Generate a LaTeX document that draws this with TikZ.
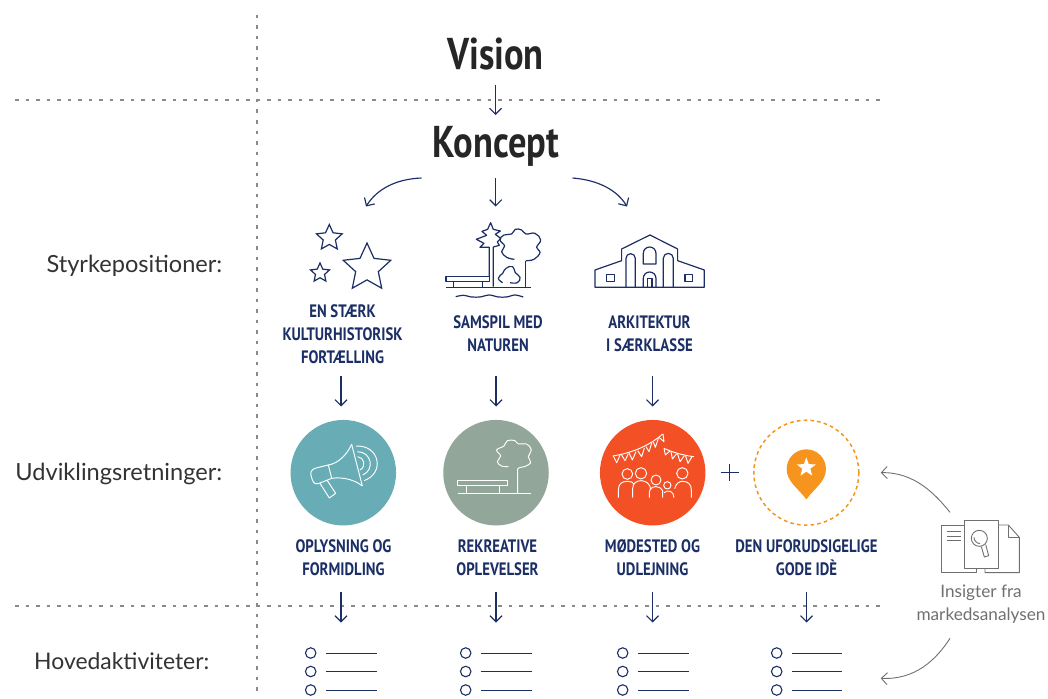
\documentclass[tikz,border=0pt]{standalone}
\usepackage{fontspec}
\usetikzlibrary{arrows.meta,shapes.geometric}
\setmainfont{Lato}
\newfontfamily\headfont[FakeStretch=0.82]{PT Sans Bold}
\newfontfamily\rowfont{Lato}
\definecolor{navy}{HTML}{1B2F66}
\definecolor{guide}{HTML}{8A8A8A}
\definecolor{grayink}{HTML}{707070}
\definecolor{teal}{HTML}{68ADB5}
\definecolor{sage}{HTML}{93A69A}
\definecolor{tomato}{HTML}{F35125}
\definecolor{amber}{HTML}{F7941E}
\tikzset{
 guideline/.style={draw=guide,line width=1.2pt,dash pattern=on 3.5pt off 7pt},
 flow/.style={draw=navy,line width=1.15pt,-{Straight Barb[length=6pt,width=12pt]}},
 side/.style={draw=grayink,line width=.9pt,-{Straight Barb[length=6pt,width=12pt]}},
 title/.style={font=\headfont\fontsize{44.5}{48}\selectfont,text=black!85,inner sep=0pt},
 tag/.style={font=\headfont\fontsize{18}{23}\selectfont,text=navy,align=center,inner sep=0pt},
 rowlabel/.style={font=\rowfont\fontsize{23.6}{27}\selectfont,text=black!80,anchor=east,inner sep=0pt},
 note/.style={font=\rowfont\fontsize{17.2}{23}\selectfont,text=grayink,align=center,inner sep=0pt},
 ink/.style={draw=navy,line width=1.2pt,line join=round},
 wink/.style={draw=white,line width=.95pt,line join=round},
 gink/.style={draw=grayink,line width=.9pt,line join=round},
 disc/.style={circle,minimum size=105.5pt,inner sep=0pt},
 startop/.style={star,star points=5,star point ratio=2.1,inner sep=0pt,draw=navy,line width=1.2pt},
 dotitem/.style={circle,draw=navy,line width=1.1pt,minimum size=10.5pt,inner sep=0pt},
}
\newcommand{\listblock}[3]{%
 \foreach \yy/\nn in {653/a,671.5/b,690/c}{
  \node[dotitem] (#3\nn) at (#1,\yy) {};
  \coordinate (#3\nn e) at (#2,\yy);
  \draw[navy,line width=1pt] (#3\nn.east)++(9pt,0) -- (#3\nn e);
 }}
\begin{document}
\begin{tikzpicture}[x=1pt,y=-1pt]
\useasboundingbox (0,0) rectangle (1048,698);
\fill[white] (0,0) rectangle (1048,698);
% guides
\coordinate (vt) at (257,15); \coordinate (vb) at (257,692);
\coordinate (h1a) at (15,100); \coordinate (h1b) at (880,100);
\coordinate (h2a) at (15,606); \coordinate (h2b) at (880,606);
\draw[guideline] (vt)--(vb);
\draw[guideline] (h1a)--(h1b);
\draw[guideline] (h2a)--(h2b);
% titles
\node[title] (vision) at (495.5,53.5) {Vision};
\node[title] (koncept) at (496,146.5) {Koncept};
\coordinate (v1) at (495.5,85); \coordinate (v2) at (495.5,115);
\draw[flow] (v1)--(v2);
\coordinate (kl) at (421.5,178); \coordinate (kle) at (366,206.5);
\coordinate (kc) at (495.7,178); \coordinate (kce) at (495.7,206.5);
\coordinate (kr) at (572.5,178); \coordinate (kre) at (627,206.5);
\draw[flow] (kl) .. controls (396,179) and (377,189) .. (kle);
\draw[flow] (kc)--(kce);
\draw[flow] (kr) .. controls (598,180) and (617,190) .. (kre);
% row labels
\node[rowlabel] (r1) at (222.5,266) {Styrkepositioner:};
\node[rowlabel] (r2) at (222.5,474) {Udviklingsretninger:};
\node[rowlabel,font=\rowfont\fontsize{22.9}{27}\selectfont] (r3) at (209.5,661) {Hovedaktiviteter:};
% stars
\node[startop,minimum size=50pt] (s1) at (367,268) {};
\node[startop,minimum size=27pt] (s2) at (329.3,238) {};
\node[startop,minimum size=20pt] (s3) at (320,273) {};
% icons zone 1 in zoom coordinates
\begin{scope}[shift={(280,170)},x=.3333pt,y=-.3333pt]
 % nature
 \draw[ink] (498,352)--(752,352);
 \draw[ink] (498,319) rectangle (628,334);
 \draw[ink] (520,334)--(520,352) (607,334)--(607,352);
 \draw[ink] plot[smooth] coordinates {(527,380)(550,376)(575,381)(600,381)(628,375)(655,381)(680,381)(705,375)(730,381)};
 \draw[ink] (628,319)--(628,232)--(600,232)--(612,220)--(589,208)--(620,196)--(606,184)--(623,178)--(632,158)--(640,178)--(661,183)--(646,193)--(662,205)--(652,216)--(658,226)--(640,231)--(640,350);
 \draw[ink] plot[smooth,tension=.7] coordinates {(703,268)(680,262)(665,245)(674,228)(660,210)(672,195)(695,192)(706,178)(725,180)(738,192)(765,190)(782,210)(770,232)(780,248)(762,268)(738,272)};
 \draw[ink] (737,272)--(737,350);
 \draw[ink] plot[smooth,tension=.8] coordinates {(668,338)(655,325)(668,310)(678,295)(698,290)(706,308)(720,322)(712,338)(690,338)};
 % building
 \draw[ink] (945,352)--(945,300)--(1025,272)--(1025,237)--(1110,195)--(1193,237)--(1193,272)--(1273,300)--(1273,352)--cycle;
 \draw[ink] (980,313) rectangle (1003,335) (1215,313) rectangle (1238,335);
 \draw[ink] (1038,352)--(1038,265) arc[start angle=180,end angle=0,x radius=14,y radius=-14]--(1066,352);
 \draw[ink] (1150,352)--(1150,265) arc[start angle=180,end angle=0,x radius=15,y radius=-15]--(1180,352);
 \draw[ink] (1090,282)--(1090,250) arc[start angle=180,end angle=0,x radius=19,y radius=-19]--(1128,282)--cycle;
 \draw[ink] (1090,352)--(1090,325) arc[start angle=180,end angle=0,x radius=19,y radius=-19]--(1128,352);
 \draw[ink] (1102,352)--(1102,325)--(1116,325)--(1116,352);
\end{scope}
% tags
\node[tag] (t1) at (342.5,334.5) {EN STÆRK\\KULTURHISTORISK\\FORTÆLLING};
\node[tag] (t2) at (498,333.5) {SAMSPIL MED\\NATUREN};
\node[tag] (t3) at (649.5,333.5) {ARKITEKTUR\\I SÆRKLASSE};
\node[tag] (t4) at (343.5,557.5) {OPLYSNING OG\\FORMIDLING};
\node[tag] (t5) at (497.5,557.5) {REKREATIVE\\OPLEVELSER};
\node[tag] (t6) at (652.5,557.5) {MØDESTED OG\\UDLEJNING};
\node[tag] (t7) at (806.5,557.5) {DEN UFORUDSIGELIGE\\GODE IDÈ};
% vertical arrows
\foreach \n/\x in {a/341,b/496,c/652.5}{
 \coordinate (m\n) at (\x,376); \coordinate (m\n e) at (\x,406.5);
 \draw[flow] (m\n)--(m\n e);
}
\foreach \n/\x in {a/341,b/496,c/652.5,d/806.5}{
 \coordinate (l\n) at (\x,592); \coordinate (l\n e) at (\x,622.5);
 \draw[flow] (l\n)--(l\n e);
}
% discs
\node[disc,fill=teal] (d1) at (343.3,472.7) {};
\node[disc,fill=sage] (d2) at (496,472.7) {};
\node[disc,fill=tomato] (d3) at (652.7,472.7) {};
\node[disc,draw=amber,line width=1.5pt,dash pattern=on 3.6pt off 3.2pt,minimum size=105pt] (d4) at (806.3,472.7) {};
\begin{scope}[shift={(280,410)},x=.3333pt,y=-.3333pt]
 % megaphone
 \draw[wink] (215,103)--(247,228);
 \draw[wink] (145,165) .. controls (175,160) and (200,135) .. (215,103);
 \draw[wink] (155,205) .. controls (190,200) and (225,210) .. (247,228);
 \draw[wink] (145,165)--(155,205);
 \draw[wink] (145,165)--(108,174) .. controls (92,178) and (90,190) .. (94,200) .. controls (98,215) and (102,224) .. (115,221)--(155,205);
 \draw[wink] (120,220)--(148,264)--(167,250)--(142,212);
 \draw[wink] (233,140) .. controls (252,142) and (260,168) .. (240,180);
 \draw[wink] (232,125) .. controls (275,125) and (285,180) .. (248,195);
 \draw[wink] (228,108) .. controls (300,105) and (315,190) .. (252,212);
 % bench and tree
 \draw[wink] (534,250)--(752,250);
 \draw[wink] (533,210) rectangle (682,227);
 \draw[wink] (559,227)--(559,250) (657,227)--(657,250);
 \draw[wink] (713,250)--(713,178) .. controls (713,172) and (725,172) .. (733,170) plot[smooth,tension=.7] coordinates {(733,170)(752,158)(745,140)(754,120)(740,102)(715,102)(705,92)(682,92)(672,108)(650,120)(662,138)(652,155)(665,168)(685,170)};
\end{scope}
\begin{scope}[shift={(590,410)},x=.3333pt,y=-.3333pt]
 % bunting
 \draw[wink] (68,138) .. controls (120,130) and (175,110) .. (218,72);
 \foreach \a/\b/\c in {{(70,138)}/{(90,136)}/{(80,158)},{(95,135)}/{(115,131)}/{(105,152)},{(118,130)}/{(138,125)}/{(127,150)},{(143,122)}/{(163,114)}/{(155,140)},{(168,110)}/{(185,100)}/{(177,125)},{(190,96)}/{(205,85)}/{(196,112)},{(207,82)}/{(219,72)}/{(222,95)}}{
  \draw[wink] \a--\c--\b;
 }
 \draw[wink] (222,115) .. controls (250,128) and (280,136) .. (312,140);
 \foreach \a/\b/\c in {{(222,115)}/{(240,123)}/{(226,135)},{(243,124)}/{(260,131)}/{(247,147)},{(263,132)}/{(283,137)}/{(270,155)},{(287,138)}/{(306,140)}/{(294,160)}}{
  \draw[wink] \a--\c--\b;
 }
 % people
 \draw[wink] (112,192) circle[radius=16] (153,190) circle[radius=17] (198,210) circle[radius=15] (232,226) circle[radius=11] (277,190) circle[radius=17];
 \draw[wink] (85,263)--(85,240) .. controls (85,222) and (95,214) .. (112,214) .. controls (122,214) and (128,216) .. (132,222);
 \draw[wink] (128,263)--(128,236) .. controls (128,220) and (140,212) .. (153,212) .. controls (170,212) and (182,224) .. (182,240);
 \draw[wink] (178,263)--(178,248) .. controls (178,236) and (188,230) .. (198,230) .. controls (206,230) and (215,234) .. (218,242)--(218,263);
 \draw[wink] (222,248) .. controls (235,238) and (252,244) .. (252,263);
 \draw[wink] (254,236) .. controls (258,220) and (268,214) .. (278,214) .. controls (295,214) and (304,224) .. (304,240)--(304,263);
 % plus
 \coordinate (pl) at (393,187); \coordinate (pr) at (446,187);
 \coordinate (pt) at (419.5,161); \coordinate (pb) at (419.5,214);
 \draw[navy,line width=1.1pt] (pl)--(pr) (pt)--(pb);
 % pin
 \fill[amber] (649,268) .. controls (625,235) and (590,215) .. (590,177) arc[start angle=180,end angle=0,x radius=59,y radius=-59] .. controls (708,215) and (673,235) .. (649,268)--cycle;
\end{scope}
\node[star,star points=5,star point ratio=2.4,fill=white,minimum size=20pt,inner sep=0pt] (pinstar) at (806.3,467.5) {};
% document icon
\begin{scope}[shift={(860,450)},x=.3333pt,y=-.3333pt]
 \draw[gink] (312,225)--(245,225)--(245,368)--(348,368)--(348,355);
 \draw[gink] (312,212) rectangle (415,355);
 \draw[gink] (375,355)--(375,368)--(478,368)--(478,262)--(445,225)--(415,225);
 \draw[gink] (445,225)--(445,262)--(478,262);
 \draw[gink] (260,245)--(302,245) (260,258)--(302,258) (260,272)--(302,272);
 \draw[gink] (358,265) circle[radius=24];
 \draw[gink] (342,262) .. controls (342,272) and (350,280) .. (360,281);
 \draw[gink] (364,290)--(373,321)--(386,317)--(377,284);
 \coordinate (dt) at (270,187); \coordinate (dte) at (62,68);
 \coordinate (db) at (270,565); \coordinate (dbe) at (62,685);
\end{scope}
\draw[side] (dt) .. controls (936,495) and (915,472) .. (dte);
\draw[side] (db) .. controls (936,660) and (915,680) .. (dbe);
\node[note] (n1) at (981,604.5) {Insigter fra\\markedsanalysen};
% lists
\listblock{310.7}{377}{la}
\listblock{465.7}{532}{lb}
\listblock{622.7}{689}{lc}
\listblock{776.7}{842}{ld}
\end{tikzpicture}
\end{document}
